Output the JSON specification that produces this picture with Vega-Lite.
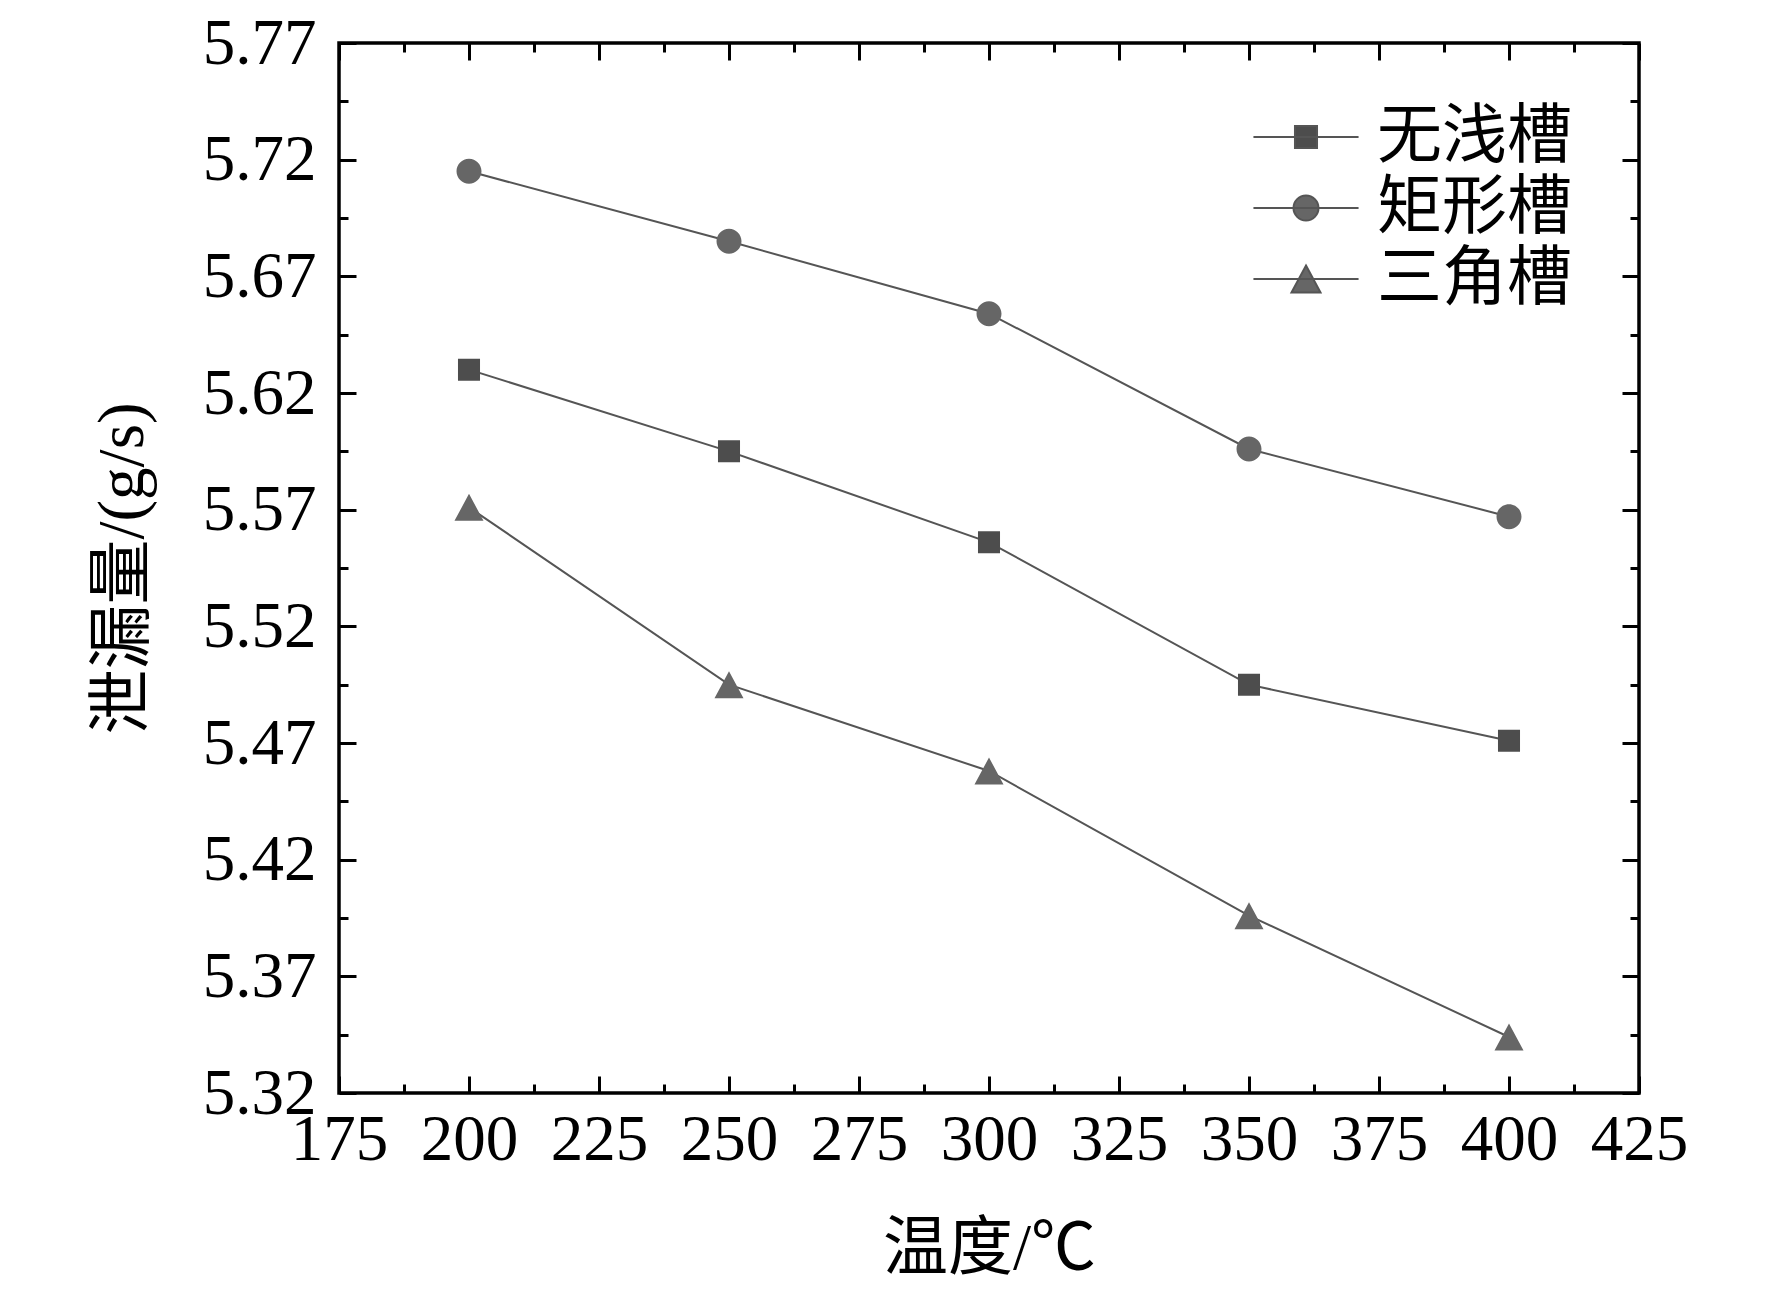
{
  "$schema": "https://vega.github.io/schema/vega-lite/v6.json",
  "description": "泄漏量随温度变化",
  "autosize": "none",
  "width": 1300,
  "height": 1050,
  "padding": {"left": 339, "top": 43, "right": 133, "bottom": 206},
  "background": "white",
  "config": {
    "view": {"stroke": "black", "strokeWidth": 3.5},
    "font": "Liberation Serif, Noto Sans CJK SC",
    "axis": {
      "domain": false,
      "grid": false,
      "tickColor": "black",
      "tickWidth": 3,
      "labelFont": "Liberation Serif, Noto Sans CJK SC",
      "labelFontSize": 65,
      "labelColor": "black",
      "labelFlush": false,
      "labelOverlap": false,
      "titleFont": "Liberation Serif, Noto Sans CJK SC",
      "titleFontSize": 65,
      "titleFontWeight": "normal",
      "titleColor": "black"
    },
    "legend": {
      "orient": "none",
      "legendX": 930,
      "legendY": 57,
      "title": null,
      "padding": 0,
      "symbolSize": 5184,
      "symbolFillColor": "#666666",
      "symbolStrokeColor": "#555555",
      "symbolStrokeWidth": 2,
      "labelFont": "Liberation Serif, Noto Sans CJK SC",
      "labelFontSize": 65,
      "labelColor": "black",
      "labelLimit": 600,
      "labelOffset": 34,
      "rowPadding": 1
    }
  },
  "data": {
    "values": [
      {"temp": 200, "leak": 5.630, "series": "无浅槽"},
      {"temp": 250, "leak": 5.595, "series": "无浅槽"},
      {"temp": 300, "leak": 5.556, "series": "无浅槽"},
      {"temp": 350, "leak": 5.495, "series": "无浅槽"},
      {"temp": 400, "leak": 5.471, "series": "无浅槽"},
      {"temp": 200, "leak": 5.715, "series": "矩形槽"},
      {"temp": 250, "leak": 5.685, "series": "矩形槽"},
      {"temp": 300, "leak": 5.654, "series": "矩形槽"},
      {"temp": 350, "leak": 5.596, "series": "矩形槽"},
      {"temp": 400, "leak": 5.567, "series": "矩形槽"},
      {"temp": 200, "leak": 5.571, "series": "三角槽"},
      {"temp": 250, "leak": 5.495, "series": "三角槽"},
      {"temp": 300, "leak": 5.458, "series": "三角槽"},
      {"temp": 350, "leak": 5.396, "series": "三角槽"},
      {"temp": 400, "leak": 5.344, "series": "三角槽"}
    ]
  },
  "layer": [
    {
      "mark": {"type": "line", "color": "#555555", "strokeWidth": 2},
      "encoding": {
        "x": {
          "field": "temp", "type": "quantitative",
          "scale": {"domain": [175, 425], "nice": false, "zero": false},
          "axis": {
            "orient": "bottom",
            "values": [175, 200, 225, 250, 275, 300, 325, 350, 375, 400, 425],
            "tickSize": -17, "labelPadding": 32,
            "title": "温度/℃", "titleX": 650, "titleY": 155, "titleBaseline": "middle"
          }
        },
        "y": {
          "field": "leak", "type": "quantitative",
          "scale": {"domain": [5.32, 5.77], "nice": false, "zero": false},
          "axis": {
            "orient": "left",
            "values": [5.32, 5.37, 5.42, 5.47, 5.52, 5.57, 5.62, 5.67, 5.72, 5.77],
            "format": ".2f",
            "tickSize": -17, "labelPadding": 40,
            "title": "泄漏量/(g/s)", "titleX": -217, "titleY": 525, "titleBaseline": "middle"
          }
        },
        "detail": {"field": "series"}
      }
    },
    {
      "mark": {"type": "point", "filled": true, "opacity": 1, "size": 5184},
      "encoding": {
        "x": {
          "field": "temp", "type": "quantitative",
          "axis": {
            "orient": "bottom",
            "values": [187.5, 212.5, 237.5, 262.5, 287.5, 312.5, 337.5, 362.5, 387.5, 412.5],
            "labels": false, "tickSize": -9, "title": null
          }
        },
        "y": {
          "field": "leak", "type": "quantitative",
          "axis": {
            "orient": "left",
            "values": [5.345, 5.395, 5.445, 5.495, 5.545, 5.595, 5.645, 5.695, 5.745],
            "labels": false, "tickSize": -9, "title": null
          }
        },
        "color": {
          "field": "series", "type": "nominal",
          "scale": {"domain": ["无浅槽", "矩形槽", "三角槽"], "range": ["#4d4d4d", "#666666", "#666666"]}
        },
        "shape": {
          "field": "series", "type": "nominal",
          "scale": {
            "domain": ["无浅槽", "矩形槽", "三角槽"],
            "range": [
              "M-1.46,0H1.46M-0.306,-0.306H0.306V0.306H-0.306Z",
              "M-1.46,0H1.46M-0.347,0A0.347,0.347,0,1,0,0.347,0A0.347,0.347,0,1,0,-0.347,0Z",
              "M-1.46,0H1.46M0,-0.375L0.403,0.375H-0.403Z"
            ]
          }
        }
      }
    },
    {
      "mark": {"type": "line", "opacity": 0},
      "encoding": {
        "x": {
          "field": "temp", "type": "quantitative",
          "axis": {
            "orient": "top",
            "values": [175, 200, 225, 250, 275, 300, 325, 350, 375, 400, 425],
            "labels": false, "tickSize": -17, "title": null
          }
        },
        "y": {
          "field": "leak", "type": "quantitative",
          "axis": {
            "orient": "right",
            "values": [5.32, 5.37, 5.42, 5.47, 5.52, 5.57, 5.62, 5.67, 5.72, 5.77],
            "labels": false, "tickSize": -17, "title": null
          }
        },
        "detail": {"field": "series"}
      }
    },
    {
      "mark": {"type": "line", "opacity": 0},
      "encoding": {
        "x": {
          "field": "temp", "type": "quantitative",
          "axis": {
            "orient": "top",
            "values": [187.5, 212.5, 237.5, 262.5, 287.5, 312.5, 337.5, 362.5, 387.5, 412.5],
            "labels": false, "tickSize": -9, "title": null
          }
        },
        "y": {
          "field": "leak", "type": "quantitative",
          "axis": {
            "orient": "right",
            "values": [5.345, 5.395, 5.445, 5.495, 5.545, 5.595, 5.645, 5.695, 5.745],
            "labels": false, "tickSize": -9, "title": null
          }
        },
        "detail": {"field": "series"}
      }
    }
  ],
  "resolve": {"axis": {"x": "independent", "y": "independent"}}
}
